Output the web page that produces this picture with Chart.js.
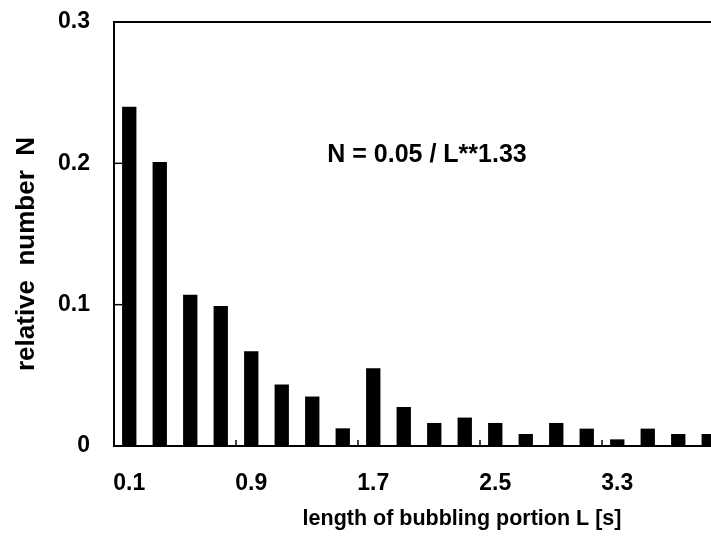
<!DOCTYPE html>
<html>
<head>
<meta charset="utf-8">
<script src="https://cdn.jsdelivr.net/npm/chart.js@4.4.1/dist/chart.umd.min.js"></script>
<style>
  html, body { margin: 0; padding: 0; background: #fff; overflow: hidden; width: 711px; height: 545px; }
  #wrap { position: relative; width: 726px; height: 545px; }
</style>
</head>
<body>
<div id="wrap"><canvas id="c"></canvas></div>
<script>
// ---- data ----
const categories = ['0.1','0.3','0.5','0.7','0.9','1.1','1.3','1.5','1.7','1.9',
                    '2.1','2.3','2.5','2.7','2.9','3.1','3.3','3.5','3.7','3.9'];
const relativeNumber = [0.240, 0.201, 0.107, 0.099, 0.067, 0.0435, 0.035, 0.0125, 0.055, 0.0276,
                        0.0163, 0.0201, 0.0163, 0.0085, 0.0163, 0.0123, 0.0047, 0.0123, 0.0085, 0.0085];
const xTickLabels = ['0.1','0.9','1.7','2.5','3.3'];
const yTickValues = [0, 0.1, 0.2, 0.3];
const xTitle = 'length of bubbling portion L [s]';
const yTitle = 'relative  number  N';
const formulaText = 'N = 0.05 / L**1.33';

const FONT = "'Liberation Sans', Arial, Helvetica, sans-serif";

const decorations = {
  id: 'decorations',
  afterDraw(chart) {
    const ctx = chart.ctx;
    const { left, right, top, bottom } = chart.chartArea;
    const xs = chart.scales.x, ys = chart.scales.y;
    ctx.save();
    ctx.strokeStyle = '#000';
    // top frame line
    ctx.lineWidth = 2;
    ctx.beginPath();
    ctx.moveTo(left - 1, top);
    ctx.lineTo(right + 2, top);
    ctx.stroke();
    // inward tick marks on x axis (every 4 categories, at category boundaries)
    ctx.lineWidth = 1.5;
    for (let i = 4; i < categories.length; i += 4) {
      const x = (xs.getPixelForValue(i - 1) + xs.getPixelForValue(i)) / 2;
      ctx.beginPath();
      ctx.moveTo(x, bottom);
      ctx.lineTo(x, bottom - 6);
      ctx.stroke();
    }
    // inward tick marks on y axis
    yTickValues.forEach(v => {
      if (v <= 0 || v >= 0.3) return;
      const y = ys.getPixelForValue(v);
      ctx.beginPath();
      ctx.moveTo(left, y);
      ctx.lineTo(left + 8, y);
      ctx.stroke();
    });
    ctx.fillStyle = '#000';
    ctx.textAlign = 'center';
    ctx.textBaseline = 'middle';
    // formula annotation
    ctx.font = 'bold 25px ' + FONT;
    ctx.fillText(formulaText, 427, 155);
    // x axis title
    ctx.font = 'bold 21.5px ' + FONT;
    ctx.fillText(xTitle, 462, 519);
    // y axis title
    ctx.save();
    ctx.translate(27, 254);
    ctx.rotate(-Math.PI / 2);
    ctx.font = 'bold 26px ' + FONT;
    ctx.fillText(yTitle, 0, 0);
    ctx.restore();
    ctx.restore();
  }
};

new Chart(document.getElementById('c'), {
  type: 'bar',
  data: {
    labels: categories,
    datasets: [{
      data: relativeNumber,
      backgroundColor: '#000',
      borderWidth: 0,
      barPercentage: 0.47,
      categoryPercentage: 1.0
    }]
  },
  options: {
    responsive: true,
    maintainAspectRatio: false,
    animation: false,
    layout: { padding: { left: 0, top: 22, right: 2, bottom: 0 } },
    plugins: { legend: { display: false }, tooltip: { enabled: false } },
    scales: {
      x: {
        grid: { display: true, drawOnChartArea: false, drawTicks: false },
        border: { display: true, color: '#000', width: 2 },
        ticks: {
          autoSkip: false, maxRotation: 0, minRotation: 0, padding: 24, color: '#000',
          font: { family: FONT, size: 23, weight: 'bold' },
          callback: (val, idx) => xTickLabels.includes(categories[idx]) ? categories[idx] : null
        },
        afterFit(s) { s.height = 99; }
      },
      y: {
        min: 0, max: 0.3,
        afterBuildTicks(s) { s.ticks = yTickValues.map(v => ({ value: v })); },
        grid: { display: true, drawOnChartArea: false, drawTicks: false },
        border: { display: true, color: '#000', width: 2 },
        ticks: {
          padding: 24, color: '#000',
          font: { family: FONT, size: 23, weight: 'bold' },
          callback: v => v === 0 ? '0' : v.toFixed(1)
        },
        afterFit(s) { s.width = 114; s.paddingTop = 0; }
      }
    }
  },
  plugins: [decorations]
});
</script>
</body>
</html>
